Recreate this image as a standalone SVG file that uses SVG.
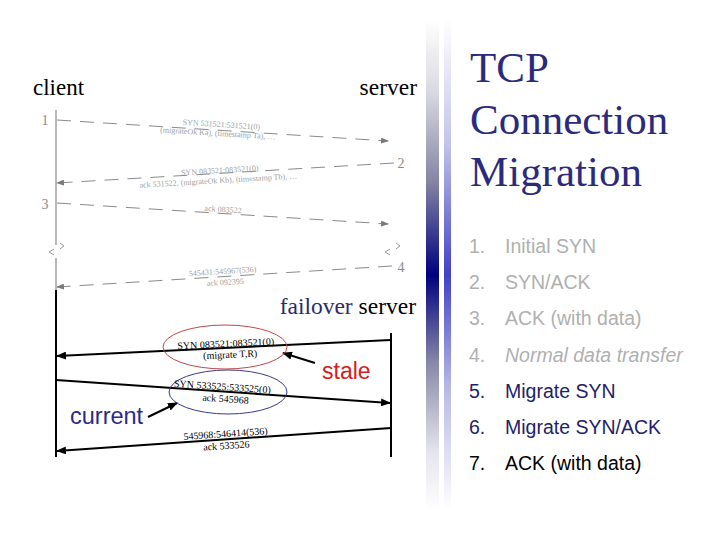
<svg xmlns="http://www.w3.org/2000/svg" width="720" height="540" viewBox="0 0 720 540">
<style>
.serif{font-family:"Liberation Serif","Times New Roman",serif}
.sans{font-family:"Liberation Sans",Arial,sans-serif}
.up{stroke:#8a8a8a;stroke-width:1;fill:none;stroke-dasharray:14 9}
.uptxt{font-family:"Liberation Serif",serif;font-size:8px;fill:#a0a0a0;text-anchor:middle}
.lo{stroke:#000;stroke-width:2;fill:none}
.lotxt{font-family:"Liberation Serif",serif;font-size:10px;fill:#000;text-anchor:middle}
.life{stroke:#8a8a8a;stroke-width:1.2;fill:none}
.li{font-family:"Liberation Sans",Arial,sans-serif;font-size:19.5px}
</style>
<defs>
<marker id="ag" markerUnits="userSpaceOnUse" markerWidth="8" markerHeight="6" refX="7" refY="3" orient="auto"><path d="M0,0 L8,3 L0,6 Z" fill="#7a7a7a"/></marker>
<marker id="ab" markerUnits="userSpaceOnUse" markerWidth="10" markerHeight="8" refX="9" refY="4" orient="auto"><path d="M0,0 L10,4 L0,8 Z" fill="#000"/></marker>
<linearGradient id="g1" gradientUnits="userSpaceOnUse" x1="0" y1="20" x2="0" y2="510">
<stop offset="0" stop-color="#ffffff"/><stop offset="0.15" stop-color="#d8d8e0"/><stop offset="0.33" stop-color="#8484a4"/><stop offset="0.52" stop-color="#000080"/><stop offset="0.7" stop-color="#8888a8"/><stop offset="0.88" stop-color="#e4e4ec"/><stop offset="1" stop-color="#ffffff"/>
</linearGradient>
<linearGradient id="g2" gradientUnits="userSpaceOnUse" x1="0" y1="20" x2="0" y2="510">
<stop offset="0" stop-color="#ffffff"/><stop offset="0.25" stop-color="#c4c4ea"/><stop offset="0.52" stop-color="#4040c8"/><stop offset="0.75" stop-color="#b8b8e6"/><stop offset="1" stop-color="#ffffff"/>
</linearGradient>
</defs>
<rect width="720" height="540" fill="#fff"/>
<rect x="426" y="20" width="13" height="490" fill="url(#g1)"/>
<rect x="444" y="20" width="7" height="490" fill="url(#g2)"/>

<g id="title"><text class="serif" font-size="43" fill="#2b2b7e"><tspan x="470" y="82">TCP</tspan><tspan x="470" y="134">Connection</tspan><tspan x="470" y="186">Migration</tspan></text></g>

<g id="steps">
<text class="li" y="253" fill="#b0b0b0"><tspan x="469">1.</tspan><tspan x="505">Initial SYN</tspan></text>
<text class="li" y="289" fill="#b0b0b0"><tspan x="469">2.</tspan><tspan x="505">SYN/ACK</tspan></text>
<text class="li" y="325" fill="#b0b0b0"><tspan x="469">3.</tspan><tspan x="505">ACK (with data)</tspan></text>
<text class="li" y="362" fill="#b0b0b0"><tspan x="469">4.</tspan><tspan x="505" font-style="italic">Normal data transfer</tspan></text>
<text class="li" y="398" fill="#22226a"><tspan x="469">5.</tspan><tspan x="505">Migrate SYN</tspan></text>
<text class="li" y="434" fill="#22226a"><tspan x="469">6.</tspan><tspan x="505">Migrate SYN/ACK</tspan></text>
<text class="li" y="470" fill="#000"><tspan x="469">7.</tspan><tspan x="505">ACK (with data)</tspan></text>
</g>

<g id="client"><text class="serif" x="33" y="95" font-size="23" fill="#000">client</text>
<path class="life" d="M56,110 V245 M56,258 V290"/>
<path d="M60,243 l4,3 l-4,3 M54,249 l-5,3 l5,3" stroke="#9a9a9a" stroke-width="1" fill="none"/>
<text x="45" y="125" class="serif" font-size="14" fill="#8a8a8a" text-anchor="middle">1</text>
<text x="45" y="209" class="serif" font-size="14" fill="#8a8a8a" text-anchor="middle">3</text>
<line x1="56" y1="290" x2="56" y2="457" stroke="#000" stroke-width="2"/>
</g>

<g id="server"><text class="serif" x="417" y="95" font-size="23.5" fill="#000" text-anchor="end">server</text>
<path d="M396,243 l4,3 l-4,3 M390,249 l-5,3 l5,3" stroke="#9a9a9a" stroke-width="1" fill="none"/>
<text x="401" y="168" class="serif" font-size="14" fill="#8a8a8a" text-anchor="middle">2</text>
<text x="401" y="272" class="serif" font-size="14" fill="#8a8a8a" text-anchor="middle">4</text>
</g>

<g id="failover"><text class="serif" x="416" y="314" font-size="23.5" text-anchor="end"><tspan fill="#2b2b70">failover</tspan> <tspan fill="#000">server</tspan></text>
<line x1="391" y1="333" x2="391" y2="457" stroke="#000" stroke-width="2"/>
</g>

<g id="connectors">
<line class="up" x1="57" y1="120" x2="388" y2="141" marker-end="url(#ag)"/>
<line class="up" x1="394" y1="163" x2="57" y2="183" marker-end="url(#ag)"/>
<line class="up" x1="57" y1="203" x2="388" y2="224" marker-end="url(#ag)"/>
<line class="up" x1="392" y1="266" x2="57" y2="287" marker-end="url(#ag)"/>
<line class="lo" x1="391" y1="340" x2="57" y2="356" marker-end="url(#ab)"/>
<line class="lo" x1="56" y1="380" x2="390" y2="403" marker-end="url(#ab)"/>
<line class="lo" x1="391" y1="428" x2="57" y2="451" marker-end="url(#ab)"/>
<line x1="315" y1="363" x2="283" y2="353" stroke="#000" stroke-width="2" marker-end="url(#ab)"/>
<line x1="148" y1="417" x2="177" y2="403" stroke="#000" stroke-width="2" marker-end="url(#ab)"/>
</g>

<g id="labels">
<g transform="rotate(3.6 220 130)"><text class="uptxt" x="221" y="127">SYN 531521:531521(0)</text><text class="uptxt" x="218" y="136">(migrateOk Ka), (timestamp Ta), …</text></g>
<g transform="rotate(-3.4 220 175)"><text class="uptxt" x="220" y="173">SYN 083521:083521(0)</text><text class="uptxt" x="218" y="183">ack 531522, (migrateOk Kb), (timestamp Tb), …</text></g>
<g transform="rotate(3.6 223 210)"><text class="uptxt" x="223" y="212">ack 083522</text></g>
<g transform="rotate(-3.6 223 278)"><text class="uptxt" x="223" y="274">545431:545967(536)</text><text class="uptxt" x="225" y="285">ack 092395</text></g>
<g id="stale-msg"><ellipse cx="225" cy="347" rx="62" ry="22" fill="none" stroke="#c04848" stroke-width="1"/>
<g transform="rotate(-2.7 226 350)"><text class="lotxt" x="226" y="347">SYN 083521:083521(0)</text><text class="lotxt" x="230" y="358">(migrate T,R)</text></g></g>
<g id="current-msg"><ellipse cx="228" cy="392" rx="59" ry="22" fill="none" stroke="#3a3a8a" stroke-width="1"/>
<g transform="rotate(3.9 222 392)"><text class="lotxt" x="222" y="390">SYN 533525:533525(0)</text><text class="lotxt" x="226" y="402">ack 545968</text></g></g>
<g transform="rotate(-3.9 226 440)"><text class="lotxt" x="226" y="437">545968:546414(536)</text><text class="lotxt" x="226" y="449">ack 533526</text></g>
<text class="sans" x="322" y="379" font-size="23" fill="#d42020">stale</text>
<text class="sans" x="70" y="424" font-size="23.5" fill="#2b2b8a">current</text>
</g>
</svg>
